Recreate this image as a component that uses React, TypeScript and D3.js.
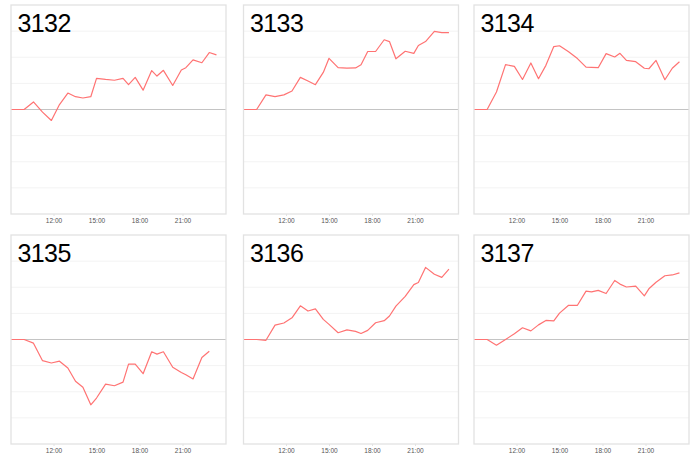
import React from "react";
import * as d3 from "d3";

const times = [
  "09:00", "09:55", "10:34", "11:12", "11:49", "12:23", "12:58", "13:30", "14:01",
  "14:34", "14:58", "15:36", "16:13", "16:49", "17:12", "17:40", "18:13", "18:49",
  "19:11", "19:38", "20:17", "20:53", "21:12", "21:42", "22:19", "22:50", "23:20",
];

const titles = ["3132", "3133", "3134", "3135", "3136", "3137"];

const s3132 = [0, 0, 0.29, -0.1, -0.42, 0.19, 0.63, 0.49, 0.44, 0.49, 1.19, 1.15, 1.12, 1.19, 0.95, 1.23, 0.74, 1.49, 1.28, 1.5, 0.92, 1.51, 1.6, 1.9, 1.79, 2.18, 2.09];
const s3133 = [0, 0, 0.56, 0.49, 0.56, 0.71, 1.23, 1.09, 0.95, 1.42, 1.96, 1.6, 1.58, 1.59, 1.71, 2.22, 2.22, 2.67, 2.6, 1.94, 2.23, 2.15, 2.45, 2.6, 2.99, 2.94, 2.94];
const s3134 = [0, 0, 0.67, 1.72, 1.65, 1.15, 1.78, 1.18, 1.69, 2.41, 2.44, 2.21, 1.95, 1.62, 1.61, 1.6, 2.14, 2.01, 2.15, 1.88, 1.83, 1.58, 1.56, 1.88, 1.14, 1.58, 1.83];
const s3135 = [0, 0, -0.14, -0.81, -0.9, -0.83, -1.09, -1.6, -1.83, -2.5, -2.24, -1.71, -1.77, -1.63, -0.94, -0.94, -1.31, -0.47, -0.56, -0.47, -1.06, -1.26, -1.35, -1.51, -0.69, -0.45];
const s3136 = [0, 0, -0.03, 0.55, 0.63, 0.83, 1.29, 1.09, 1.17, 0.77, 0.58, 0.26, 0.37, 0.31, 0.23, 0.35, 0.64, 0.72, 0.9, 1.28, 1.65, 2.1, 2.18, 2.76, 2.5, 2.38, 2.69];
const s3137 = [0, 0, -0.22, 0, 0.22, 0.45, 0.33, 0.56, 0.73, 0.71, 1.01, 1.31, 1.31, 1.85, 1.82, 1.88, 1.76, 2.26, 2.12, 2.01, 2.04, 1.67, 1.94, 2.19, 2.44, 2.47, 2.55];

const seriesList = [s3132, s3133, s3134, s3135, s3136, s3137];
const xTickLabels = ["12:00", "15:00", "18:00", "21:00"];
const yGrid = [-3, -2, -1, 1, 2, 3];

const toDate = (hm: string) => {
  const [h, m] = hm.split(":").map(Number);
  return new Date(2020, 0, 1, h, m);
};

const colX = [11, 243.5, 474];
const rowY = [5, 235];
const PW = 215;
const PH = 209;

function Panel({ idx }: { idx: number }) {
  const col = idx % 3;
  const row = Math.floor(idx / 3);
  const left = colX[col];
  const top = rowY[row];
  const x = d3
    .scaleTime()
    .domain([toDate("09:00"), new Date(2020, 0, 2, 0, 0)])
    .range([0, PW]);
  const y = d3.scaleLinear().domain([-4, 4]).range([PH, 0]);
  const vals = seriesList[idx];
  const pts: [Date, number][] = vals.map((v, i) => [toDate(times[i]), v]);
  const line = d3
    .line<[Date, number]>()
    .x((d) => x(d[0]))
    .y((d) => y(d[1]));
  return (
    <g transform={`translate(${left},${top})`}>
      <rect x={0} y={0} width={PW} height={PH} fill="#fff" />
      {yGrid.map((g) => (
        <line key={g} x1={0} x2={PW} y1={y(g)} y2={y(g)} stroke="#f3f3f3" strokeWidth={1} />
      ))}
      <line x1={0} x2={PW} y1={y(0)} y2={y(0)} stroke="#c4c4c4" strokeWidth={1.2} />
      <path d={line(pts) || ""} fill="none" stroke="#ff7373" strokeWidth={1.2} strokeLinejoin="round" />
      <rect x={0} y={0} width={PW} height={PH} fill="none" stroke="#e2e2e2" strokeWidth={1.3} />
      {xTickLabels.map((t) => {
        const tx = x(toDate(t));
        return (
          <g key={t}>
            <line x1={tx} x2={tx} y1={PH} y2={PH + 2} stroke="#e2e2e2" strokeWidth={1} />
            <text
              x={tx}
              y={PH + 9}
              textAnchor="middle"
              fontSize={6.5}
              fontFamily="'Liberation Sans', Arial, sans-serif"
              fill="#555"
            >
              {t}
            </text>
          </g>
        );
      })}
      <text
        x={6.5}
        y={26.5}
        fontSize={25}
        fontFamily="'Liberation Sans', Arial, sans-serif"
        fill="#000"
        letterSpacing={-0.6}
      >
        {titles[idx]}
      </text>
    </g>
  );
}

export default function App() {
  return (
    <svg
      width={700}
      height={458}
      style={{ position: "absolute", left: 0, top: 0, background: "#fff" }}
    >
      <rect x={0} y={0} width={700} height={458} fill="#fff" />
      {titles.map((_, i) => (
        <Panel key={i} idx={i} />
      ))}
    </svg>
  );
}
